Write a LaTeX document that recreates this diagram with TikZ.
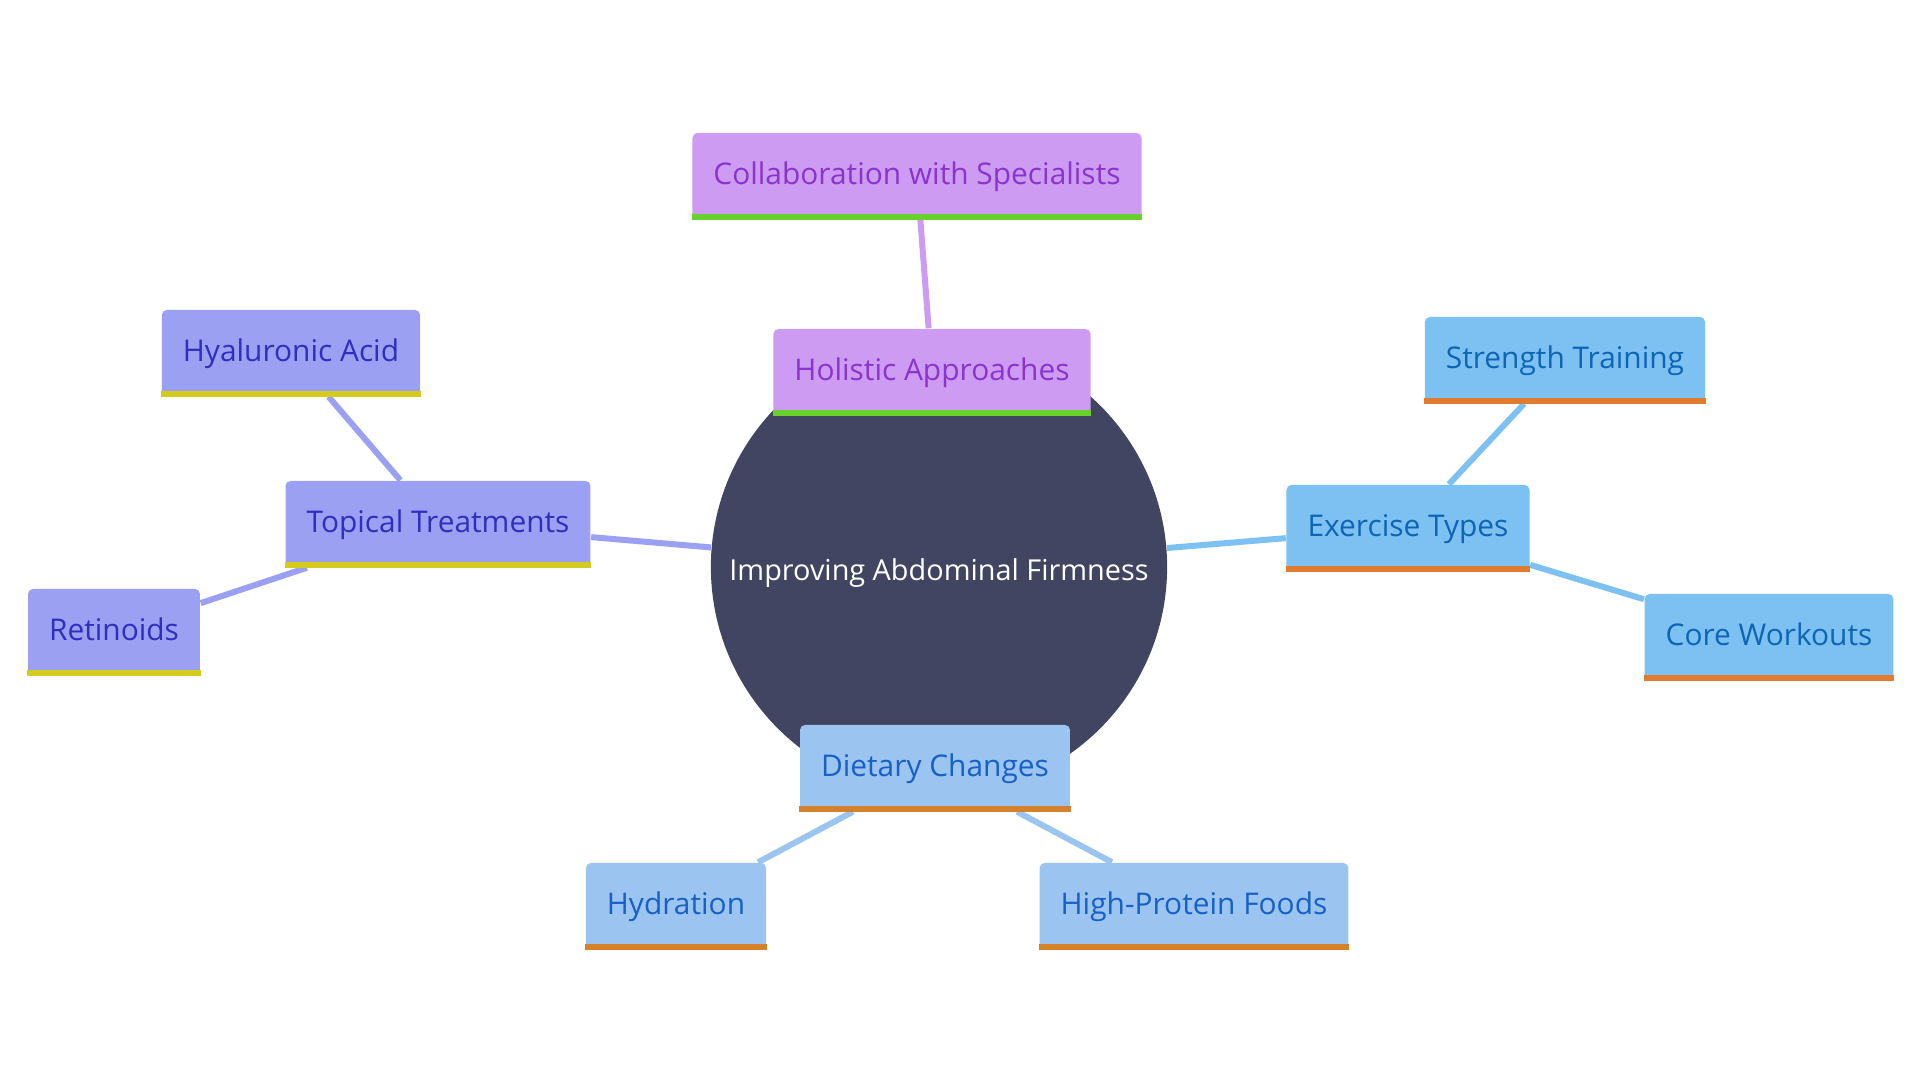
\documentclass[tikz,border=0pt]{standalone}
\usepackage{fontspec}
\setmainfont{Open Sans}
\usetikzlibrary{backgrounds}

\definecolor{corefill}{HTML}{424561}
\definecolor{holfill}{HTML}{CD9CF2}
\definecolor{holtext}{HTML}{8A33CF}
\definecolor{holbar}{HTML}{69D12B}
\definecolor{topfill}{HTML}{9CA0F2}
\definecolor{toptext}{HTML}{2F2EC1}
\definecolor{topbar}{HTML}{D5CB1F}
\definecolor{exefill}{HTML}{7DC1F2}
\definecolor{exetext}{HTML}{0E65B3}
\definecolor{exebar}{HTML}{E07B2F}
\definecolor{dietfill}{HTML}{9CC4F0}
\definecolor{diettext}{HTML}{1760C6}
\definecolor{dietbar}{HTML}{D5822A}

\begin{document}
\begin{tikzpicture}[x=0.01cm,y=-0.01cm,
  every node/.style={font=\fontsize{8.5}{10}\selectfont},
  leaf/.style={rectangle, rounded corners=0.05cm, minimum height=0.86cm,
    inner xsep=0.21cm, inner ysep=0pt, text height=1.8ex, text depth=0.9ex},
  link/.style={line width=0.06cm}]
  \useasboundingbox (0,0) rectangle (1920,1080);

  % centre
  \node[circle, fill=corefill, text=white, minimum size=4.56cm, inner sep=0pt,
    text height=1.6ex, text depth=0.2ex,
    font=\fontsize{8.2}{10}\selectfont] (core) at (939,567) {Improving Abdominal Firmness};

  % holistic
  \node[leaf, fill=holfill, text=holtext] (colab) at (917,176) {Collaboration with Specialists};
  \node[leaf, fill=holfill, text=holtext] (holi) at (932,372) {Holistic Approaches};

  % topical
  \node[leaf, fill=topfill, text=toptext] (hyal) at (291,353) {Hyaluronic Acid};
  \node[leaf, fill=topfill, text=toptext] (topi) at (438,524) {Topical Treatments};
  \node[leaf, fill=topfill, text=toptext] (reti) at (114,632) {Retinoids};

  % exercise
  \node[leaf, fill=exefill, text=exetext] (stre) at (1565,360) {Strength Training};
  \node[leaf, fill=exefill, text=exetext] (exer) at (1408,528) {Exercise Types};
  \node[leaf, fill=exefill, text=exetext] (cork) at (1769,637) {Core Workouts};

  % diet
  \node[leaf, fill=dietfill, text=diettext] (diet) at (935,768) {Dietary Changes};
  \node[leaf, fill=dietfill, text=diettext] (hydr) at (676,906) {Hydration};
  \node[leaf, fill=dietfill, text=diettext] (prot) at (1194,906) {High-Protein Foods};

  \foreach \n/\c in {colab/holbar, holi/holbar, hyal/topbar, topi/topbar, reti/topbar,
      stre/exebar, exer/exebar, cork/exebar, diet/dietbar, hydr/dietbar, prot/dietbar}
    \fill[\c] (\n.south west) rectangle ([yshift=0.06cm]\n.south east);

  \begin{scope}[on background layer]
    \draw[link, holfill] (holi) -- (colab);
    \draw[link, topfill] (core) -- (topi);
    \draw[link, topfill] (topi) -- (hyal);
    \draw[link, topfill] (topi) -- (reti);
    \draw[link, exefill] (core) -- (exer);
    \draw[link, exefill] (exer) -- (stre);
    \draw[link, exefill] (exer) -- (cork);
    \draw[link, dietfill] (diet) -- (hydr);
    \draw[link, dietfill] (diet) -- (prot);
  \end{scope}
\end{tikzpicture}
\end{document}
